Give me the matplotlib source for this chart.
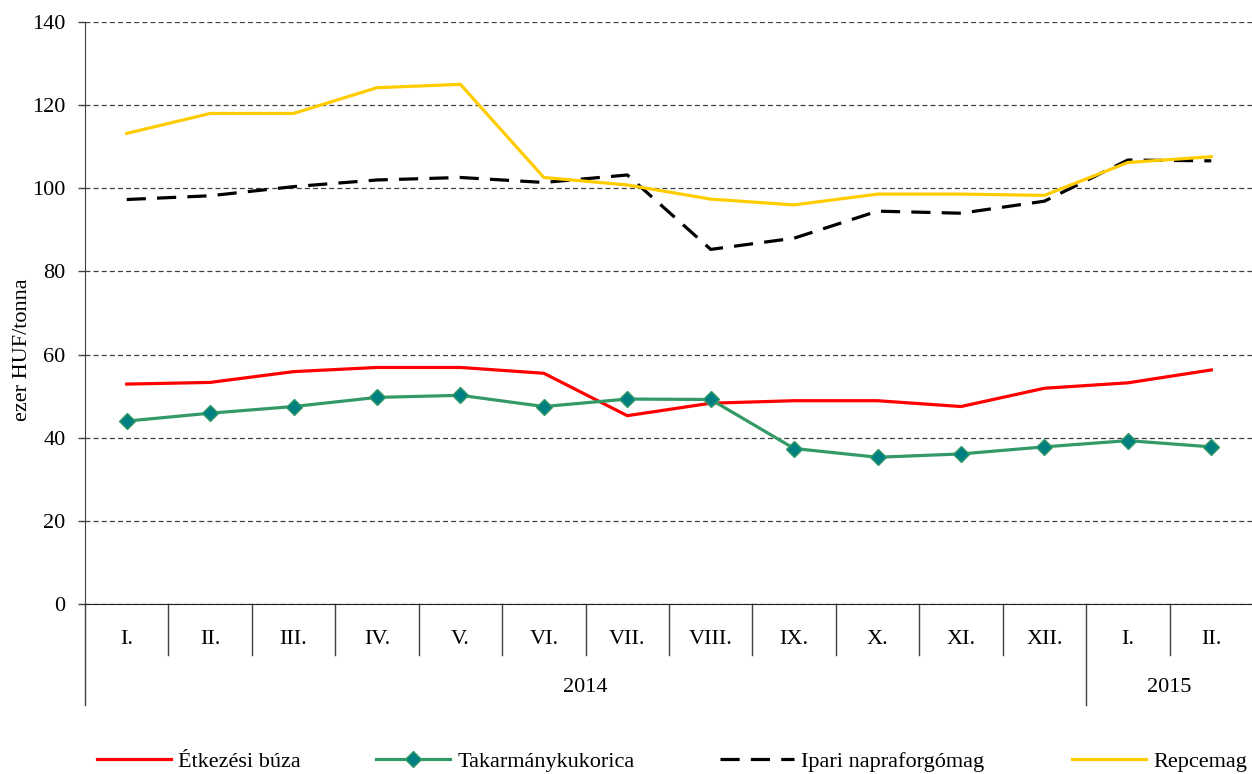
import matplotlib
matplotlib.use("Agg")
import matplotlib.pyplot as plt
from matplotlib.lines import Line2D

plt.rcParams['font.family'] = ['Liberation Serif', 'DejaVu Serif']

months = ["I.", "II.", "III.", "IV.", "V.", "VI.", "VII.", "VIII.", "IX.", "X.", "XI.", "XII.", "I.", "II."]
years = ["2014", "2015"]
year_counts = [12, 2]

buza = [52.9, 53.3, 55.9, 56.9, 56.9, 55.5, 45.3, 48.3, 48.9, 48.9, 47.5, 51.9, 53.2, 56.3]
kukorica = [44.0, 45.9, 47.5, 49.7, 50.2, 47.5, 49.3, 49.2, 37.4, 35.3, 36.1, 37.8, 39.3, 37.8]
napraforgo = [97.3, 98.2, 100.4, 102.0, 102.6, 101.4, 103.2, 85.3, 88.0, 94.5, 94.0, 96.9, 106.8, 106.6]
repce = [113.2, 118.0, 118.0, 124.2, 125.0, 102.6, 100.8, 97.4, 96.0, 98.6, 98.6, 98.3, 106.2, 107.6]

labels = ["Étkezési búza", "Takarmánykukorica", "Ipari napraforgómag", "Repcemag"]

FS = 16
fig = plt.figure(figsize=(12.52, 7.74), dpi=100)
ax = fig.add_axes([85/1252, 1-604/774, (1253-85)/1252, (604-22)/774])

x = list(range(len(months)))
h1, = ax.plot(x, buza, color="#FF0000", lw=2.3, label=labels[0], zorder=3)
h2, = ax.plot(x, kukorica, color="#339966", lw=2.3, marker="D", markersize=8,
              markerfacecolor="#008080", markeredgecolor="#339966", markeredgewidth=1.0,
              label=labels[1], zorder=3)
h3, = ax.plot(x, napraforgo, color="#000000", lw=2.3, dashes=(6, 3.5), label=labels[2], zorder=3)
h4, = ax.plot(x, repce, color="#FFCC00", lw=2.3, label=labels[3], zorder=3)

ax.set_xlim(-0.5, len(months) - 0.5)
ax.set_ylim(0, 140)
ax.set_yticks(range(0, 141, 20))
ax.yaxis.grid(True, color="#404040", ls=(0, (4, 2.5)), lw=0.9)
ax.set_axisbelow(True)
ax.set_xticks([])
for s in ["top", "right"]:
    ax.spines[s].set_visible(False)
ax.spines["left"].set_color("#404040")
ax.spines["bottom"].set_color("#202020")
ax.tick_params(axis="y", length=5, width=1, color="#404040", labelsize=FS, pad=9)
ax.set_ylabel("ezer HUF/tonna", fontsize=FS)
ax.yaxis.set_label_coords((32-85)/1168, (604-350)/582)

trans = ax.get_xaxis_transform()
y1 = -51/582
y2 = -101/582
ax.add_line(Line2D([-0.5, -0.5], [0, y2], transform=trans, color="#404040", lw=1, clip_on=False))
boundaries_year = []
acc = -0.5
for c in year_counts:
    acc += c
    boundaries_year.append(acc)
for k in range(len(months)):
    b = k + 0.5
    yl = y2 if b in boundaries_year else y1
    ax.add_line(Line2D([b, b], [0, yl], transform=trans, color="#404040", lw=1, clip_on=False))
for i, m in enumerate(months):
    ax.text(i, -36/582, m, transform=trans, ha="center", va="center", fontsize=FS)
start = -0.5
for yname, c in zip(years, year_counts):
    ax.text(start + c/2, -84/582, yname, transform=trans, ha="center", va="center", fontsize=FS)
    start += c

handles = [h1, h2, h3, h4]
starts = [97, 376, 720, 1072]
for h, lab, sx in zip(handles, labels, starts):
    fig.legend([h], [lab], loc="center left", bbox_to_anchor=(sx/1252, 1-762/774),
               frameon=False, fontsize=FS, handlelength=3.35, handletextpad=0.3,
               borderpad=0, borderaxespad=0)

fig.savefig("out.png", dpi=100)
